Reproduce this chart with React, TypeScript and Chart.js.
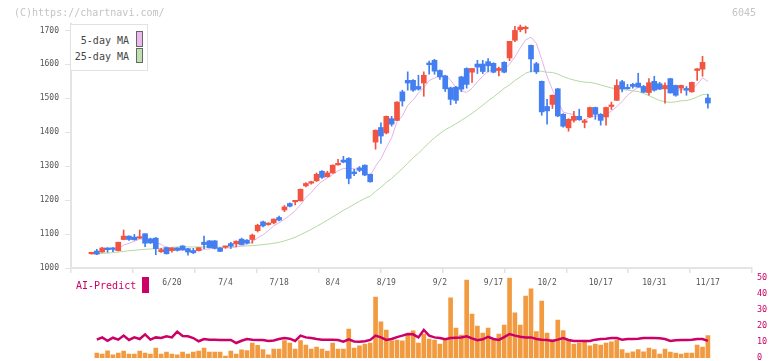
import React, { useEffect, useRef } from 'react';
import { Chart, registerables } from 'chart.js';

Chart.register(...registerables);

// ---- price data (one entry per trading day, 5/30 .. 11/17) ----
const opens = [
  1042, 1050, 1047, 1059, 1059, 1051, 1084, 1094, 1091, 1088,
  1101, 1086, 1088, 1048, 1060, 1051, 1059, 1065, 1057, 1051,
  1051, 1076, 1080, 1080, 1059, 1061, 1072, 1071, 1085, 1082,
  1084, 1110, 1136, 1128, 1133, 1149, 1171, 1190, 1195, 1198,
  1242, 1250, 1257, 1285, 1269, 1280, 1304, 1318, 1323, 1283,
  1295, 1303, 1276, 1371, 1414, 1398, 1440, 1435, 1519, 1553,
  1553, 1535, 1545, 1604, 1612, 1582, 1566, 1531, 1533, 1563,
  1588, 1577, 1601, 1601, 1608, 1603, 1582, 1606, 1619, 1671,
  1702, 1705, 1656, 1602, 1550, 1476, 1482, 1528, 1453, 1413,
  1435, 1447, 1429, 1445, 1473, 1453, 1445, 1476, 1494, 1549,
  1532, 1541, 1545, 1535, 1517, 1550, 1543, 1528, 1558, 1538,
  1530, 1529, 1519, 1582, 1586, 1501,
];
const highs = [
  1044, 1055, 1061, 1060, 1060, 1076, 1112, 1095, 1099, 1112,
  1101, 1088, 1090, 1058, 1062, 1060, 1060, 1066, 1058, 1058,
  1060, 1094, 1081, 1081, 1060, 1064, 1076, 1080, 1088, 1084,
  1100, 1129, 1138, 1133, 1145, 1153, 1184, 1192, 1198, 1233,
  1252, 1256, 1280, 1287, 1285, 1304, 1320, 1329, 1325, 1291,
  1299, 1304, 1277, 1407, 1428, 1448, 1447, 1490, 1524, 1578,
  1555, 1568, 1578, 1610, 1615, 1584, 1568, 1533, 1535, 1565,
  1590, 1588, 1612, 1612, 1617, 1605, 1592, 1608, 1668, 1712,
  1716, 1713, 1657, 1606, 1551, 1497, 1510, 1529, 1455, 1440,
  1462, 1468, 1438, 1474, 1474, 1455, 1474, 1489, 1555, 1553,
  1541, 1544, 1574, 1538, 1558, 1565, 1547, 1546, 1559, 1539,
  1539, 1535, 1548, 1588, 1624, 1512,
];
const lows = [
  1041, 1039, 1046, 1046, 1048, 1050, 1083, 1081, 1082, 1087,
  1063, 1072, 1039, 1046, 1041, 1047, 1050, 1052, 1038, 1042,
  1050, 1057, 1059, 1056, 1048, 1058, 1058, 1062, 1068, 1072,
  1073, 1106, 1121, 1126, 1130, 1139, 1166, 1180, 1186, 1197,
  1239, 1247, 1255, 1264, 1268, 1279, 1303, 1310, 1248, 1272,
  1284, 1272, 1253, 1350, 1367, 1395, 1418, 1434, 1477, 1524,
  1520, 1524, 1506, 1571, 1571, 1556, 1520, 1481, 1485, 1520,
  1530, 1547, 1573, 1573, 1578, 1575, 1566, 1575, 1611, 1667,
  1696, 1692, 1578, 1573, 1450, 1424, 1470, 1446, 1415, 1403,
  1430, 1435, 1413, 1444, 1438, 1421, 1421, 1467, 1494, 1519,
  1527, 1530, 1533, 1517, 1509, 1521, 1526, 1486, 1515, 1506,
  1516, 1509, 1518, 1553, 1565, 1471,
];
const closes = [
  1043, 1041, 1059, 1054, 1055, 1076, 1094, 1084, 1083, 1090,
  1073, 1074, 1057, 1054, 1042, 1059, 1052, 1054, 1047, 1045,
  1060, 1069, 1060, 1058, 1049, 1062, 1065, 1079, 1069, 1073,
  1097, 1126, 1124, 1130, 1144, 1141, 1180, 1182, 1197, 1232,
  1249, 1252, 1276, 1267, 1280, 1303, 1306, 1312, 1264, 1278,
  1288, 1274, 1254, 1406, 1389, 1447, 1424, 1489, 1492, 1545,
  1524, 1527, 1568, 1599, 1580, 1563, 1528, 1497, 1494, 1527,
  1541, 1588, 1592, 1579, 1596, 1577, 1588, 1577, 1668, 1700,
  1710, 1707, 1616, 1578, 1460, 1463, 1509, 1448, 1418, 1438,
  1447, 1437, 1431, 1473, 1453, 1435, 1473, 1478, 1538, 1528,
  1528, 1535, 1533, 1518, 1546, 1524, 1527, 1538, 1516, 1509,
  1538, 1524, 1547, 1587, 1606, 1486,
];
// 25-day MA for the first days (window needs earlier history)
const ma25Head = [
  1041, 1042, 1043, 1044, 1045, 1047, 1049, 1051, 1052, 1054,
  1055, 1056, 1057, 1058, 1060, 1061, 1062, 1062, 1062, 1062,
  1062, 1062, 1062, 1061,
];

// ---- lower panel ----
const volume = [
  null, 3.1, 2.5, 4.5, 1.9, 3.1, 4.3, 2.5, 2.5, 4.3,
  3.1, 2.5, 6.2, 2.5, 3.7, 2.5, 1.9, 3.7, 2.5, 3.7,
  4.3, 6.2, 3.7, 3.7, 3.7, 1.2, 4.3, 2.5, 5.0, 4.6,
  9.3, 7.9, 5.2, 1.9, 5.6, 5.6, 10.8, 9.3, 5.6, 10.8,
  8.1, 5.6, 6.8, 5.6, 4.3, 9.3, 5.6, 5.6, 18.0, 6.2,
  7.5, 8.7, 9.3, 37.9, 22.4, 17.4, 10.6, 11.2, 10.6, 14.3,
  16.8, 9.3, 14.9, 11.8, 11.2, 8.7, 11.2, 37.3, 18.6, 14.3,
  48.4, 27.3, 19.9, 15.5, 18.6, 11.2, 14.9, 20.5, 49.7, 28.1,
  20.5, 38.5, 42.9, 16.4, 35.4, 15.5, 11.4, 23.6, 17.0, 11.4,
  8.7, 9.3, 10.1, 7.6, 8.7, 8.1, 9.3, 10.1, 11.2, 5.2,
  3.1, 3.9, 5.2, 3.9, 6.2, 5.2, 2.5, 5.6, 3.7, 3.1,
  2.5, 3.1, 3.1, 8.1, 6.8, 13.9,
];
const aiPredict = [
  null, 11.4, 12.8, 10.7, 12.6, 11.4, 13.9, 11.2, 12.8, 11.8,
  14.7, 11.4, 12.8, 12.4, 13.5, 12.8, 16.4, 13.7, 13.5, 12.4,
  10.4, 11.8, 11.4, 11.4, 11.2, 11.2, 11.2, 9.3, 10.7, 11.8,
  11.3, 11.2, 11.2, 10.6, 10.9, 11.8, 12.4, 12.0, 10.6, 13.9,
  12.8, 12.4, 11.8, 11.4, 11.4, 11.4, 11.2, 10.1, 11.6, 10.3,
  10.1, 10.4, 11.2, 13.9, 12.8, 11.2, 11.8, 13.0, 13.9, 14.9,
  14.7, 12.8, 17.4, 13.9, 12.8, 12.4, 11.6, 12.4, 12.6, 12.8,
  13.5, 12.2, 11.0, 11.6, 13.2, 11.8, 11.2, 13.0, 14.9, 13.9,
  13.2, 12.8, 12.8, 11.8, 11.4, 11.2, 10.6, 11.4, 12.4, 11.2,
  10.6, 10.6, 10.6, 10.6, 11.4, 11.8, 12.0, 12.4, 12.4, 11.4,
  11.8, 11.8, 12.0, 12.4, 12.4, 12.4, 12.2, 11.8, 10.6, 11.0,
  11.2, 11.2, 11.4, 11.8, 11.8, 10.6,
];

// ---- axis ticks ----
const dateTickLabels = ['6/20', '7/4', '7/18', '8/4', '8/19', '9/2', '9/17', '10/2', '10/17', '10/31', '11/17'];
const dateTickIndex = [15, 25, 35, 45, 55, 65, 75, 85, 95, 105, 115];
const priceTicks = [1000, 1100, 1200, 1300, 1400, 1500, 1600, 1700];
const volTicks = [0, 10, 20, 30, 40, 50];
const gridTickMarks = [0, 1, 2, 3, 4, 5, 6, 7, 8, 9, 10, 11];

const X_MIN = -3.82;
const X_MAX = 123.23;

const UP = '#f25441';
const DOWN = '#437ff0';
const MA5_COLOR = '#e6b2ea';
const MA25_COLOR = '#b3d9a2';
const AI_COLOR = '#cc0066';
const VOL_COLOR = '#f29a3f';
const MONO = '"DejaVu Sans Mono", monospace';

function mean(a: number[]) {
  let s = 0;
  for (const v of a) s += v;
  return s / a.length;
}

export default function App() {
  const priceRef = useRef<HTMLCanvasElement>(null);
  const volRef = useRef<HTMLCanvasElement>(null);

  useEffect(() => {
    Chart.defaults.font.family = MONO;
    const idx = closes.map((_, i) => i);
    const colors = idx.map((i) => (closes[i] >= opens[i] ? UP : DOWN));
    const bodies = idx.map((i) => ({ x: i, y: [opens[i], closes[i]] }));
    const wicks = idx.map((i) => ({ x: i, y: [lows[i], highs[i]] }));
    const ma5 = idx.map((i) => ({ x: i, y: i < 4 ? null : mean(closes.slice(i - 4, i + 1)) }));
    const ma25 = idx.map((i) => ({ x: i, y: i < 24 ? ma25Head[i] : mean(closes.slice(i - 24, i + 1)) }));

    const priceChart = new Chart(priceRef.current as HTMLCanvasElement, {
      type: 'bar',
      data: {
        datasets: [
          { type: 'line', xAxisID: 'x', yAxisID: 'y', data: ma25, borderColor: MA25_COLOR, borderWidth: 1, pointRadius: 0, order: 4 } as any,
          { type: 'line', xAxisID: 'x', yAxisID: 'y', data: ma5, borderColor: MA5_COLOR, borderWidth: 1, pointRadius: 0, order: 3 } as any,
          { type: 'bar', xAxisID: 'x', yAxisID: 'y', data: wicks, backgroundColor: colors, barThickness: 1, grouped: false, order: 2 } as any,
          { type: 'bar', xAxisID: 'x', yAxisID: 'y', data: bodies, backgroundColor: colors, barThickness: 5, grouped: false, minBarLength: 1.5, order: 1 } as any,
        ],
      },
      options: {
        responsive: false,
        animation: false,
        layout: { padding: { left: 0, right: 20, top: 24, bottom: 0 } },
        plugins: { legend: { display: false }, tooltip: { enabled: false } },
        scales: {
          x: {
            type: 'linear', position: 'bottom', weight: 1, min: X_MIN, max: X_MAX, offset: false,
            grid: { display: false, drawTicks: false, offset: false },
            border: { display: false },
            ticks: {
              autoSkip: false, maxRotation: 0, padding: 4, color: '#555',
              font: { family: MONO, size: 8 },
              callback: (v: any) => { const k = dateTickIndex.indexOf(v); return k >= 0 ? dateTickLabels[k] : ''; },
            },
            afterBuildTicks: (s: any) => { s.ticks = dateTickIndex.map((v) => ({ value: v })); },
            afterFit: (s: any) => { s.height = 22; s.paddingLeft = 0; s.paddingRight = 0; },
          },
          xGrid: {
            type: 'linear', position: 'bottom', weight: 0, min: 0, max: 11, offset: false,
            ticks: { display: false },
            grid: { offset: false, drawOnChartArea: false, drawTicks: true, tickLength: 5, color: '#e2e2e2', lineWidth: 1.5 },
            border: { display: true, color: '#e4e4e4', width: 2 },
            afterBuildTicks: (s: any) => { s.ticks = gridTickMarks.map((v) => ({ value: v })); },
            afterFit: (s: any) => { s.height = 6; s.paddingLeft = 0; s.paddingRight = 0; },
          },
          y: {
            type: 'linear', position: 'left', min: 1000, max: 1719,
            grid: { drawOnChartArea: false, drawTicks: true, tickLength: 6, color: '#e2e2e2' },
            border: { display: true, color: '#e4e4e4', width: 2 },
            ticks: { padding: 6, color: '#555', font: { family: MONO, size: 8 }, callback: (v: any) => String(v) },
            afterBuildTicks: (s: any) => { s.ticks = priceTicks.map((v) => ({ value: v })); },
            afterFit: (s: any) => { s.width = 71; s.paddingTop = 0; s.paddingBottom = 0; },
          },
        },
      } as any,
    });

    const volChart = new Chart(volRef.current as HTMLCanvasElement, {
      type: 'bar',
      data: {
        datasets: [
          {
            type: 'line', xAxisID: 'x', yAxisID: 'y', data: idx.map((i) => ({ x: i, y: aiPredict[i] })), borderColor: AI_COLOR,
            borderWidth: 2.5, pointRadius: 0, order: 0,
          } as any,
          {
            type: 'bar', xAxisID: 'x', yAxisID: 'y', data: idx.map((i) => ({ x: i, y: volume[i] })), backgroundColor: VOL_COLOR,
            barThickness: 4, grouped: false, order: 1,
          } as any,
        ],
      },
      options: {
        responsive: false,
        animation: false,
        layout: { padding: { left: 71, right: 0, top: 7.5, bottom: 3 } },
        plugins: { legend: { display: false }, tooltip: { enabled: false } },
        scales: {
          x: { type: 'linear', display: false, min: X_MIN, max: X_MAX, offset: false, grid: { offset: false } },
          y: {
            type: 'linear', position: 'right', min: 0, max: 50,
            grid: { display: false, drawTicks: false },
            border: { display: false },
            ticks: { padding: 5, color: AI_COLOR, font: { family: MONO, size: 8.5 }, callback: (v: any) => String(v) },
            afterBuildTicks: (s: any) => { s.ticks = volTicks.map((v) => ({ value: v })); },
            afterFit: (s: any) => { s.width = 20; s.paddingTop = 0; s.paddingBottom = 0; },
          },
        },
      } as any,
    });

    return () => {
      priceChart.destroy();
      volChart.destroy();
    };
  }, []);

  const mono: React.CSSProperties = { fontFamily: MONO, whiteSpace: 'nowrap', position: 'absolute' };

  return (
    <div style={{ position: 'fixed', left: 0, top: 0, width: 772, height: 361, background: '#fff', overflow: 'hidden' }}>
      <canvas ref={priceRef} width={772} height={296} style={{ position: 'absolute', left: 0, top: 0 }} />
      <canvas ref={volRef} width={772} height={91} style={{ position: 'absolute', left: 0, top: 270 }} />
      <div style={{ ...mono, left: 14, top: 6, fontSize: 10, lineHeight: '13px', color: '#c4c4c4' }}>(C)https://chartnavi.com/</div>
      <div style={{ ...mono, right: 16, top: 6, fontSize: 10, lineHeight: '13px', color: '#c4c4c4' }}>6045</div>
      <div style={{ position: 'absolute', left: 70, top: 24, width: 78, height: 47, boxSizing: 'border-box', border: '1px solid #e2e2e2', background: '#fff' }}>
        <div style={{ ...mono, right: 18, top: 10, fontSize: 10, lineHeight: '12px', color: '#444' }}>5-day MA</div>
        <div style={{ ...mono, right: 18, top: 26, fontSize: 10, lineHeight: '12px', color: '#444' }}>25-day MA</div>
        <div style={{ position: 'absolute', left: 65, top: 6, width: 7, height: 16, boxSizing: 'border-box', border: '1px solid #666', background: '#ecb8ee' }} />
        <div style={{ position: 'absolute', left: 65, top: 23, width: 7, height: 15, boxSizing: 'border-box', border: '1px solid #666', background: '#bfe0b0' }} />
      </div>
      <div style={{ ...mono, left: 76, top: 280, fontSize: 10, lineHeight: '12px', color: AI_COLOR }}>AI-Predict</div>
      <div style={{ position: 'absolute', left: 142, top: 277, width: 7, height: 16, background: AI_COLOR }} />
    </div>
  );
}
